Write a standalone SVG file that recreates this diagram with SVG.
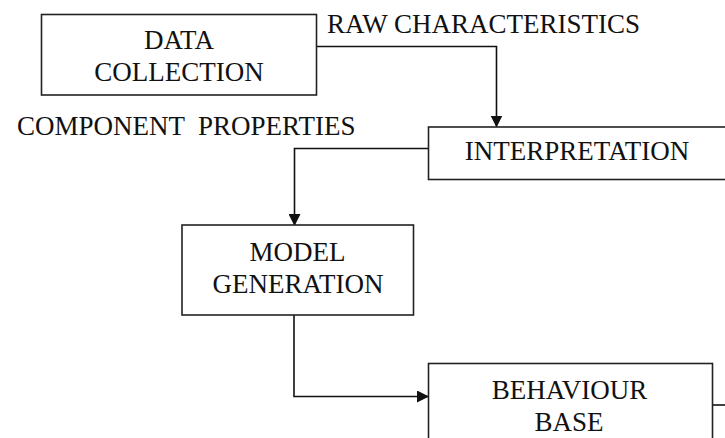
<svg xmlns="http://www.w3.org/2000/svg" width="725" height="438" viewBox="0 0 725 438">
<style>
.nbox{fill:#fff;stroke:#222;stroke-width:1.6}
.ntext{font-family:"Liberation Serif",serif !important;font-size:27px;fill:#111;text-anchor:middle}
.elabel{font-family:"Liberation Serif",serif !important;font-size:27px;fill:#111}
.conn{fill:none;stroke:#111;stroke-width:1.6}
</style>
<defs>
<marker id="ah" markerUnits="userSpaceOnUse" markerWidth="12" markerHeight="12" refX="11" refY="6" orient="auto" viewBox="0 0 12 12">
<path d="M0,0 L12,6 L0,12 z" fill="#111"/>
</marker>
</defs>
<rect width="725" height="438" fill="#fff"/>
<g id="connectors">
<path class="conn" d="M317,46.5 H496.5 V126.5" marker-end="url(#ah)"/>
<path class="conn" d="M428,148.5 H294.5 V225" marker-end="url(#ah)"/>
<path class="conn" d="M294,315 V396.5 H428" marker-end="url(#ah)"/>
<path class="conn" d="M713,405 H725"/>
</g>
<g id="labels">
<text class="elabel" font-family="Liberation Serif" x="327" y="33">RAW CHARACTERISTICS</text>
<text class="elabel" font-family="Liberation Serif" x="17" y="135" xml:space="preserve">COMPONENT  PROPERTIES</text>
</g>
<g id="data-collection">
<rect class="nbox" x="41.5" y="14.5" width="275" height="80.5"/>
<text class="ntext" font-family="Liberation Serif" x="179" y="49.3">DATA</text>
<text class="ntext" font-family="Liberation Serif" x="179" y="81">COLLECTION</text>
</g>
<g id="interpretation">
<rect class="nbox" x="428.5" y="127" width="310" height="52.5"/>
<text class="ntext" font-family="Liberation Serif" x="577" y="160">INTERPRETATION</text>
</g>
<g id="model-generation">
<rect class="nbox" x="182" y="225" width="231.5" height="90"/>
<text class="ntext" font-family="Liberation Serif" x="297.5" y="260.7">MODEL</text>
<text class="ntext" font-family="Liberation Serif" x="298" y="292.7">GENERATION</text>
</g>
<g id="behaviour-base">
<rect class="nbox" x="428.5" y="363.5" width="284" height="90"/>
<text class="ntext" font-family="Liberation Serif" x="569.5" y="399">BEHAVIOUR</text>
<text class="ntext" font-family="Liberation Serif" x="569" y="430.5">BASE</text>
</g>
</svg>
